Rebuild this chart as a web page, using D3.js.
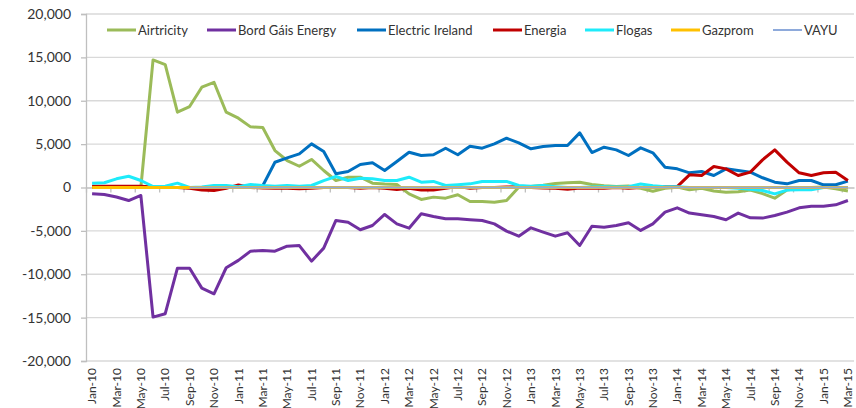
<!DOCTYPE html>
<html>
<head>
<meta charset="utf-8">
<script src="https://cdn.jsdelivr.net/npm/d3@7"></script>
<style>
  html, body { margin: 0; padding: 0; background: #fff; }
  svg { display: block; font-family: Lato, "Open Sans", sans-serif; }
</style>
</head>
<body>
<svg id="chart" width="856" height="408"></svg>
<script>
const months = ["Jan-10","Feb-10","Mar-10","Apr-10","May-10","Jun-10","Jul-10","Aug-10","Sep-10","Oct-10","Nov-10","Dec-10",
  "Jan-11","Feb-11","Mar-11","Apr-11","May-11","Jun-11","Jul-11","Aug-11","Sep-11","Oct-11","Nov-11","Dec-11",
  "Jan-12","Feb-12","Mar-12","Apr-12","May-12","Jun-12","Jul-12","Aug-12","Sep-12","Oct-12","Nov-12","Dec-12",
  "Jan-13","Feb-13","Mar-13","Apr-13","May-13","Jun-13","Jul-13","Aug-13","Sep-13","Oct-13","Nov-13","Dec-13",
  "Jan-14","Feb-14","Mar-14","Apr-14","May-14","Jun-14","Jul-14","Aug-14","Sep-14","Oct-14","Nov-14","Dec-14",
  "Jan-15","Feb-15","Mar-15"];

const seriesNames = ["Airtricity","Bord Gáis Energy","Electric Ireland","Energia","Flogas","Gazprom","VAYU"];
const seriesColors = ["#9BBB59","#7030A0","#0070C0","#C00000","#1EEBFA","#FFC000","#8EAADB"];

const airtricity = [100,100,100,100,0, 14710,14170,8680,9330,11560, 12130,8680,7990,6990,6910, 4260,3110,2450,3230,1960,
  810,1190,1190,500,400, 350,-730,-1380,-1110,-1230, -840,-1610,-1610,-1690,-1500, 40,115,250,450,540,
  610,350,200,120,180, -100,-430,-100,40,-270, -100,-400,-540,-500,-300, -700,-1230,-300,-100,0, 50,-150,-400];
const bordGais = [-730,-800,-1100,-1500,-920, -14940,-14550,-9300,-9300,-11600, -12250,-9250,-8400,-7340,-7260, -7340,-6760,-6700,-8490,-6990,
  -3800,-4000,-4870,-4380,-3110, -4190,-4690,-3030,-3340,-3610, -3610,-3720,-3800,-4190,-5030, -5610,-4650,-5140,-5610,-5220,
  -6680,-4460,-4570,-4380,-4070, -4950,-4190,-2840,-2340,-2950, -3150,-3340,-3720,-2950,-3490, -3530,-3230,-2840,-2340,-2150, -2150,-2000,-1500];
const electricIreland = [0,0,0,0,0, 0,0,0,0,0, 0,0,0,0,200, 2910,3420,3880,5030,4150,
  1580,1840,2650,2850,1960, 3000,4070,3690,3770,4530, 3770,4760,4530,5030,5680, 5150,4460,4720,4840,4840,
  6300,4030,4640,4340,3690, 4570,4000,2340,2150,1690, 1840,1380,2150,1960,1770, 1120,610,420,810,810, 310,310,730];
const energia = [150,150,150,150,150, 50,0,0,-100,-300, -350,-100,300,0,-50, -100,-100,-150,-100,0,
  0,0,-100,0,-100, -230,-100,-300,-300,-100, 100,-100,0,0,50, 100,0,-50,-100,-200,
  -50,-100,-100,0,-100, 0,50,100,100,1460, 1380,2420,2150,1380,1770, 3190,4340,2920,1690,1380, 1690,1770,810];
const flogas = [500,550,1000,1300,810, 115,150,500,0,50, 230,230,100,350,230, 150,230,150,230,800,
  1270,810,1070,1000,810, 810,1190,610,700,230, 310,420,700,700,700, 230,150,230,100,0,
  0,50,100,50,100, 400,200,100,100,0, 0,0,0,-100,-200, -350,-730,-300,-250,-250, 0,0,0];
const gazprom = [0,0,0,0,0, 0,0,0,0,0, 0,0,0,0,0, 0,0,0,0,0,
  0,0,0,0,0, 0,0,0,0,0, 0,0,0,0,0, 0,0,0,0,0,
  0,0,0,0,0, 0,0,0,0,0, 0,0,0,0,0, 0,0,0,0,0, 0,0,0];
const vayu = [null,null,null,null,null, null,null,null,0,0, 0,0,0,0,0, 0,0,0,0,0,
  0,0,0,0,0, 0,0,0,0,0, 0,0,0,0,0, 0,0,0,0,0,
  0,0,0,0,0, 0,0,0,0,0, 0,0,0,0,0, 0,0,0,0,0, 0,0,0];
const seriesValues = [airtricity, bordGais, electricIreland, energia, flogas, gazprom, vayu];
const yTicks = [-20000,-15000,-10000,-5000,0,5000,10000,15000,20000];

const svg = d3.select("#chart");
const plotLeft = 86, plotRight = 854, plotTop = 14, plotBottom = 361;

const x = d3.scaleBand().domain(months).range([plotLeft, plotRight]).paddingInner(0).paddingOuter(0);
const xEdge = d3.scaleLinear().domain([0, months.length]).range([plotLeft, plotRight]);
const y = d3.scaleLinear().domain([-20000, 20000]).range([plotBottom, plotTop]);
const fmt = v => d3.format(",")(v).replace("\u2212", "-");

// gridlines
svg.append("g").selectAll("line").data(yTicks.filter(v => v !== 0)).join("line")
  .attr("x1", plotLeft).attr("x2", plotRight)
  .attr("y1", d => y(d)).attr("y2", d => y(d))
  .attr("stroke", "#D9D9D9").attr("stroke-width", 1.3);

// y axis
const yAxis = svg.append("g").attr("transform", `translate(${plotLeft},0)`)
  .call(d3.axisLeft(y).tickValues(yTicks).tickFormat(fmt).tickSize(5).tickPadding(10));
yAxis.select(".domain").attr("stroke", "#BFBFBF").attr("stroke-width", 1.3);
yAxis.selectAll(".tick line").attr("stroke", "#BFBFBF").attr("stroke-width", 1.3);
yAxis.selectAll(".tick text").attr("font-size", 14).attr("fill", "#333")
  .attr("font-family", "Lato, 'Open Sans', sans-serif");

// category axis line at zero with tick marks
const zAxis = svg.append("g").attr("transform", `translate(0,${y(0)})`)
  .call(d3.axisBottom(xEdge).tickValues(d3.range(0, months.length + 1, 2)).tickFormat("").tickSize(5).tickSizeOuter(0));
zAxis.select(".domain").attr("stroke", "#BFBFBF").attr("stroke-width", 1.3);
zAxis.selectAll(".tick line").attr("stroke", "#BFBFBF").attr("stroke-width", 1.3);

// category labels at bottom
const xAxis = svg.append("g").attr("transform", `translate(0,${plotBottom})`)
  .call(d3.axisBottom(x).tickValues(months.filter((m, i) => i % 2 === 0)).tickSize(0).tickPadding(0));
xAxis.select(".domain").remove();
xAxis.selectAll(".tick text")
  .attr("transform", "rotate(-90)")
  .attr("x", -7).attr("y", 0).attr("dy", "0.35em")
  .attr("text-anchor", "end")
  .attr("font-size", 12).attr("fill", "#333")
  .attr("font-family", "Lato, 'Open Sans', sans-serif");

// lines
const line = d3.line()
  .defined(d => d.v !== null)
  .x(d => x(d.m) + x.bandwidth() / 2)
  .y(d => y(d.v));

seriesNames.forEach((name, si) => {
  const data = months.map((m, i) => ({ m, v: seriesValues[si][i] }));
  svg.append("path").datum(data)
    .attr("fill", "none")
    .attr("stroke", seriesColors[si])
    .attr("stroke-width", name === "VAYU" ? 2 : 3)
    .attr("stroke-linejoin", "round")
    .attr("d", line);
});

// legend
const legendX = [107, 207, 357, 493, 585, 671, 773];
const lg = svg.append("g");
seriesNames.forEach((name, si) => {
  const g = lg.append("g").attr("transform", `translate(${legendX[si]},30)`);
  g.append("line").attr("x1", 0).attr("x2", 29).attr("y1", 0).attr("y2", 0)
    .attr("stroke", seriesColors[si]).attr("stroke-width", name === "VAYU" ? 2 : 3);
  g.append("text").attr("x", 31).attr("y", 0).attr("dy", "0.35em")
    .attr("font-size", 13).attr("fill", "#333").text(name);
});
</script>
</body>
</html>
